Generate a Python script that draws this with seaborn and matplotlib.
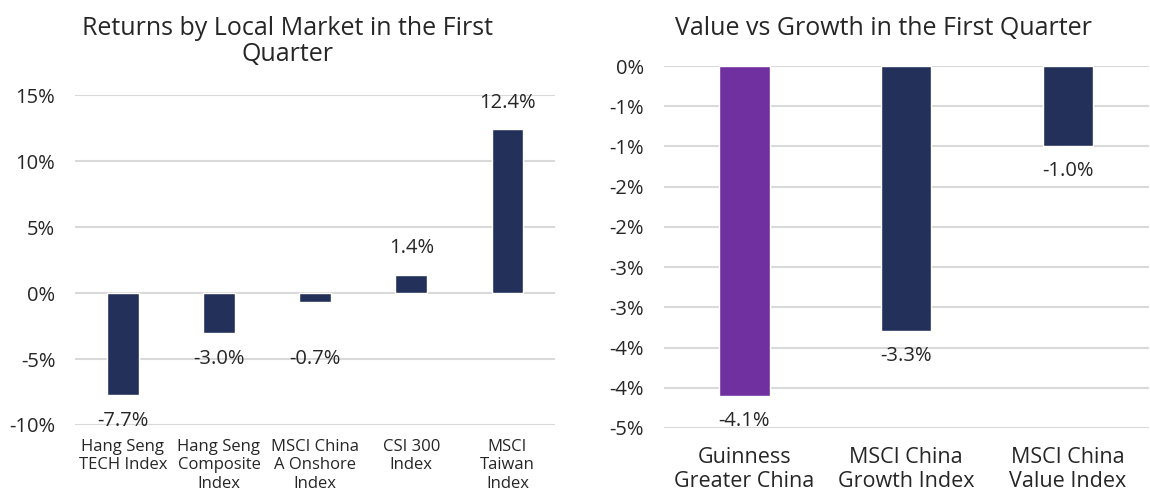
import matplotlib
matplotlib.use("Agg")
import matplotlib.pyplot as plt
import seaborn as sns
import pandas as pd

# Left panel data
markets = ["Hang Seng\nTECH Index", "Hang Seng\nComposite\nIndex", "MSCI China\nA Onshore\nIndex",
           "CSI 300\nIndex", "MSCI\nTaiwan\nIndex"]
market_returns = [-7.7, -3.0, -0.7, 1.4, 12.4]
left_ticks = [-10, -5, 0, 5, 10, 15]

# Right panel data
styles = ["Guinness\nGreater China", "MSCI China\nGrowth Index", "MSCI China\nValue Index"]
style_returns = [-4.1, -3.3, -1.0]
right_ticks = [0, -0.5, -1.0, -1.5, -2.0, -2.5, -3.0, -3.5, -4.0, -4.5]
right_tick_labels = ["0%", "-1%", "-1%", "-2%", "-2%", "-3%", "-3%", "-4%", "-4%", "-5%"]

navy = "#22305a"
purple = "#7030a0"
text_col = "#262626"
grid_col = "#d9d9d9"

sns.set_style("white")
plt.rcParams["font.family"] = ["Open Sans", "DejaVu Sans"]

fig = plt.figure(figsize=(11.5, 4.93), dpi=100)
ax1 = fig.add_axes([0.065, 0.138, 0.418, 0.669])
ax2 = fig.add_axes([0.577, 0.132, 0.422, 0.734])

df1 = pd.DataFrame({"market": markets, "ret": market_returns})
sns.barplot(data=df1, x="market", y="ret", color=navy, width=0.33, saturation=1, ax=ax1, zorder=3)

df2 = pd.DataFrame({"style": styles, "ret": style_returns})
sns.barplot(data=df2, x="style", y="ret", hue="style", palette=[purple, navy, navy],
            width=0.31, saturation=1, legend=False, ax=ax2, zorder=3)

for ax in (ax1, ax2):
    for s in ax.spines.values():
        s.set_visible(False)
    ax.set_xlabel("")
    ax.set_ylabel("")
    ax.tick_params(axis="both", length=0, colors=text_col)
    ax.grid(axis="y", color=grid_col, linewidth=1.5, zorder=0)
    ax.set_axisbelow(True)

ax1.set_ylim(-10, 15)
ax1.set_xlim(-0.5, len(markets) - 0.5)
ax1.set_yticks(left_ticks)
ax1.set_yticklabels([f"{t}%" for t in left_ticks], fontsize=14.5)
ax1.tick_params(axis="y", pad=14)
ax1.tick_params(axis="x", labelsize=12, pad=10)
for lbl in ax1.get_xticklabels():
    lbl.set_linespacing(1.22)

# extra nudge for the small bar label
nudge = {2: -22}
for i, v in enumerate(market_returns):
    off = 19 if v > 0 else -19
    off += nudge.get(i, 0)
    ax1.annotate(f"{v:.1f}%", (i, v), xytext=(0, off), textcoords="offset points",
                 ha="center", va="center", fontsize=14.5, color=text_col)

ax2.set_ylim(-4.5, 0)
ax2.set_xlim(-0.5, len(styles) - 0.5)
ax2.set_yticks(right_ticks)
ax2.set_yticklabels(right_tick_labels, fontsize=14.5)
ax2.tick_params(axis="y", pad=14)
ax2.tick_params(axis="x", labelsize=15.5, pad=14)
for lbl in ax2.get_xticklabels():
    lbl.set_linespacing(1.15)

for i, v in enumerate(style_returns):
    ax2.annotate(f"{v:.1f}%", (i, v), xytext=(0, -18), textcoords="offset points",
                 ha="center", va="center", fontsize=14.5, color=text_col)

fig.text(0.25, 0.968, "Returns by Local Market in the First\nQuarter", ha="center", va="top",
         fontsize=18, color=text_col, linespacing=1.05)
fig.text(0.768, 0.968, "Value vs Growth in the First Quarter", ha="center", va="top",
         fontsize=18, color=text_col)

fig.savefig("out.png", dpi=100)
